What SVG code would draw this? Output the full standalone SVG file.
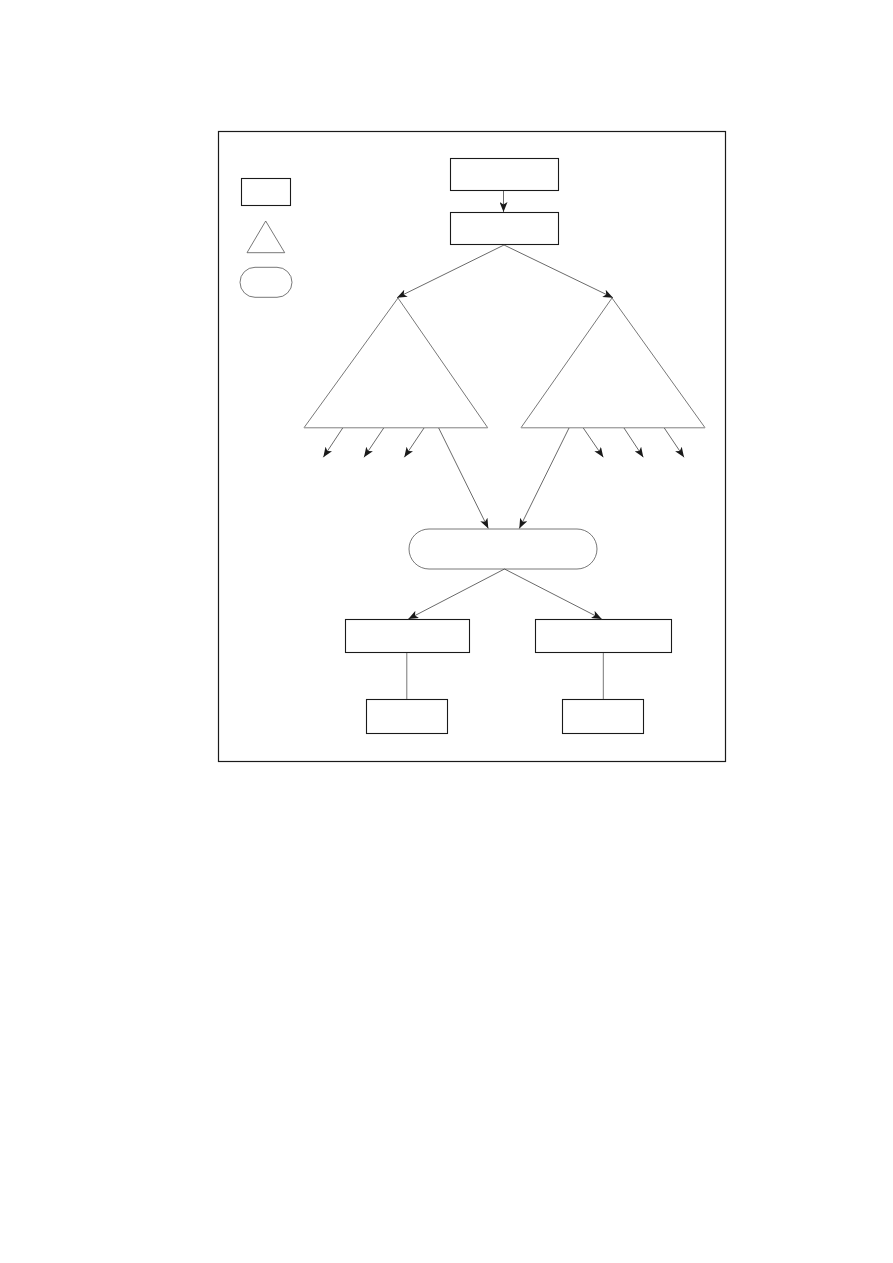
<svg xmlns="http://www.w3.org/2000/svg" width="893" height="1263" viewBox="0 0 893 1263">
<style>
.box{fill:#fff;stroke:#1a1a1a;stroke-width:1.1}
.shape{fill:#fff;stroke:#555;stroke-width:0.8}
.base{stroke:#aaa;stroke-width:1}
.edge{fill:none;stroke:#444;stroke-width:0.8}
.link{fill:none;stroke:#777;stroke-width:1}
</style>
<defs>
<marker id="ah" viewBox="0 0 10 8" refX="10" refY="4" markerWidth="10" markerHeight="8" markerUnits="userSpaceOnUse" orient="auto">
<path d="M0,0 L10,4 L0,8 L2.5,4 z" fill="#1a1a1a"/>
</marker>
</defs>
<rect x="0" y="0" width="893" height="1263" fill="#fff"/>
<rect id="frame" x="218.5" y="131.5" width="507" height="630" fill="none" stroke="#1a1a1a" stroke-width="1.2"/>
<g id="legend-rect"><rect class="box" x="241.5" y="178.5" width="49" height="27"/></g>
<g id="legend-tri"><polygon class="shape" points="265.7,221 247,252.7 284.7,252.7"/></g>
<g id="legend-stadium"><rect class="shape" x="240" y="267.3" width="52" height="30" rx="15" ry="15"/></g>
<g id="top"><rect class="box" x="450.5" y="158.5" width="108" height="32"/></g>
<g id="second"><rect class="box" x="450.5" y="212.5" width="108" height="32"/></g>
<g id="tri-left"><polygon class="shape" points="398,298 304,427.7 487.7,427.7"/><line class="base" x1="304" y1="427.7" x2="487.7" y2="427.7"/></g>
<g id="tri-right"><polygon class="shape" points="612,298 521,427.7 705,427.7"/><line class="base" x1="521" y1="427.7" x2="705" y2="427.7"/></g>
<g id="stadium"><rect class="shape" x="409" y="529" width="188" height="40" rx="20" ry="20"/></g>
<g id="mid-left"><rect class="box" x="345.5" y="619.5" width="124" height="33"/></g>
<g id="mid-right"><rect class="box" x="535.5" y="619.5" width="136" height="33"/></g>
<g id="bottom-left"><rect class="box" x="366.5" y="699.5" width="81" height="34"/></g>
<g id="bottom-right"><rect class="box" x="562.5" y="699.5" width="81" height="34"/></g>
<g id="connectors">
<line class="edge" x1="503.5" y1="191" x2="503.5" y2="212" marker-end="url(#ah)"/>
<line class="edge" x1="504" y1="245" x2="397" y2="297.7" marker-end="url(#ah)"/>
<line class="edge" x1="504" y1="245" x2="613" y2="297.7" marker-end="url(#ah)"/>
<line class="edge" x1="342.7" y1="428" x2="323.3" y2="457.3" marker-end="url(#ah)"/>
<line class="edge" x1="383.7" y1="428" x2="364" y2="457.3" marker-end="url(#ah)"/>
<line class="edge" x1="424" y1="428" x2="404.3" y2="457.3" marker-end="url(#ah)"/>
<line class="edge" x1="438.7" y1="428" x2="488.3" y2="528.5" marker-end="url(#ah)"/>
<line class="edge" x1="569" y1="428" x2="519.3" y2="528.5" marker-end="url(#ah)"/>
<line class="edge" x1="583.3" y1="428" x2="603.3" y2="457.3" marker-end="url(#ah)"/>
<line class="edge" x1="624" y1="428" x2="643.3" y2="457.3" marker-end="url(#ah)"/>
<line class="edge" x1="664.3" y1="428" x2="684" y2="457.3" marker-end="url(#ah)"/>
<line class="edge" x1="504.5" y1="569" x2="408.3" y2="619" marker-end="url(#ah)"/>
<line class="edge" x1="504.5" y1="569" x2="601.7" y2="619" marker-end="url(#ah)"/>
<line class="link" x1="406.8" y1="653" x2="406.8" y2="699"/>
<line class="link" x1="603.3" y1="653" x2="603.3" y2="699" stroke="#aaa"/>
</g>
</svg>
